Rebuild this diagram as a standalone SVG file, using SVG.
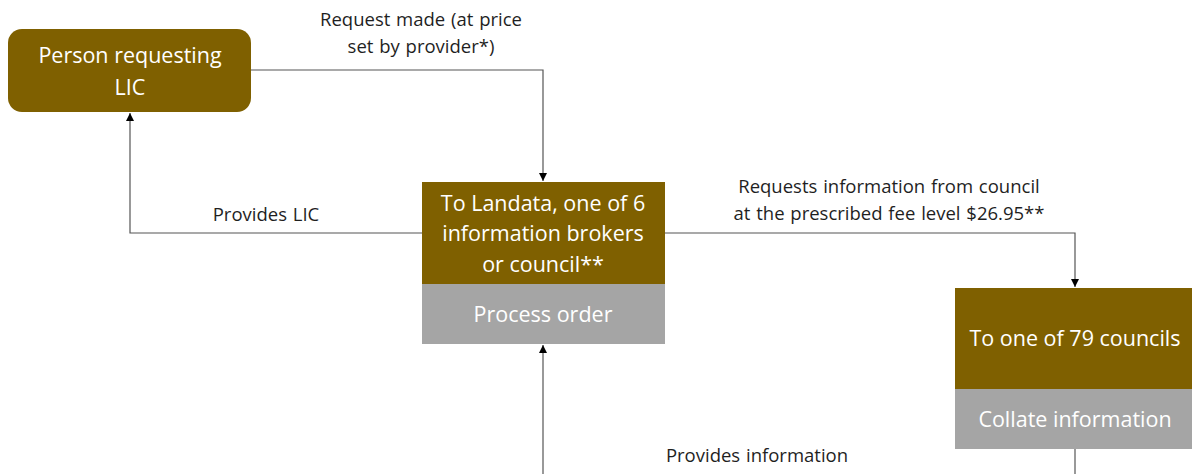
<svg xmlns="http://www.w3.org/2000/svg" width="1192" height="474" viewBox="0 0 1192 474">
  <style>
    .box { fill: #7f6000; }
    .sub { fill: #a5a5a5; }
    .node-text { font-family: "Open Sans", "Liberation Sans", sans-serif; font-size: 21.5px; fill: #ffffff; text-anchor: middle; }
    .label { font-family: "Open Sans", "Liberation Sans", sans-serif; font-size: 18.5px; fill: #1f1f1f; text-anchor: middle; word-spacing: 1px; }
    .conn { fill: none; stroke: #555555; stroke-width: 1.2; }
  </style>
  <defs>
    <marker id="arrow" viewBox="0 0 8 8" refX="8" refY="4" markerWidth="8" markerHeight="8" markerUnits="userSpaceOnUse" orient="auto">
      <path d="M0,0 L8,4 L0,8 Z" fill="#000000"/>
    </marker>
  </defs>
  <rect width="1192" height="474" fill="#ffffff"/>

  <g id="connectors">
    <path class="conn" d="M251,70 H543 V181" marker-end="url(#arrow)"/>
    <path class="conn" d="M422,233 H130 V113" marker-end="url(#arrow)"/>
    <path class="conn" d="M665,233 H1075 V287" marker-end="url(#arrow)"/>
    <path class="conn" d="M1075,449 V474"/>
    <path class="conn" d="M543,474 V345" marker-end="url(#arrow)"/>
  </g>

  <g id="person">
    <rect class="box" x="8" y="29" width="243" height="83" rx="14" ry="14"/>
    <text class="node-text" x="130" y="63">Person requesting</text>
    <text class="node-text" x="130" y="95">LIC</text>
  </g>

  <g id="provider">
    <rect class="box" x="422" y="182" width="243" height="102"/>
    <rect class="sub" x="422" y="284" width="243" height="60"/>
    <text class="node-text" x="543" y="211">To Landata, one of 6</text>
    <text class="node-text" x="543" y="241">information brokers</text>
    <text class="node-text" x="543" y="272">or council**</text>
    <text class="node-text" x="543" y="322">Process order</text>
  </g>

  <g id="council">
    <rect class="box" x="955" y="288" width="237" height="101"/>
    <rect class="sub" x="955" y="389" width="237" height="60"/>
    <text class="node-text" x="1075" y="346">To one of 79 councils</text>
    <text class="node-text" x="1075" y="427">Collate information</text>
  </g>

  <g id="labels">
    <text class="label" x="421" y="26">Request made (at price</text>
    <text class="label" x="421" y="53">set by provider*)</text>
    <text class="label" x="266" y="221">Provides LIC</text>
    <text class="label" x="889" y="193">Requests information from council</text>
    <text class="label" x="889" y="220">at the prescribed fee level $26.95**</text>
    <text class="label" x="757" y="462">Provides information</text>
  </g>
</svg>
